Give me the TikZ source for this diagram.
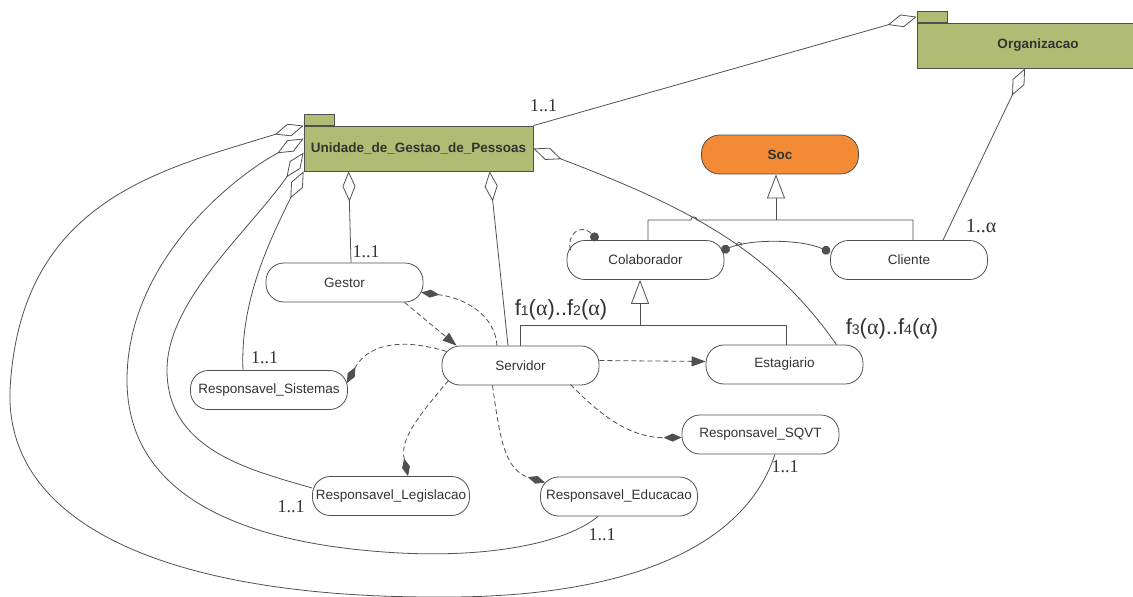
\documentclass[tikz,border=0pt]{standalone}
\usepackage{fontspec}
\setmainfont{Liberation Sans}
\newfontfamily\mulfont{Liberation Serif}
\usetikzlibrary{arrows.meta,calc}

\definecolor{pkgfill}{HTML}{B0BC74}
\definecolor{socfill}{HTML}{F28A36}
\definecolor{ink}{HTML}{505050}
\definecolor{txt}{HTML}{333333}

% multiplicity of the form f<n>(alpha)
\newcommand{\fmul}[1]{f{\fontsize{14}{14}\selectfont #1}({\mulfont α})}

\tikzset{
  pkg/.style={draw=ink, fill=pkgfill, line width=0.8pt, inner sep=0pt,
    minimum height=45pt, font=\bfseries\fontsize{13.5}{15}\selectfont, text=txt},
  pkgtab/.style={draw=ink, fill=pkgfill, line width=0.8pt, inner sep=0pt,
    minimum width=30pt, minimum height=11pt, anchor=south west},
  cls/.style={draw=ink, fill=white, line width=0.8pt, rounded corners=18pt,
    minimum width=157pt, minimum height=39pt, inner sep=0pt,
    font=\fontsize{13.5}{15}\selectfont, text=txt},
  link/.style={draw=ink, line width=0.8pt},
  dep/.style={link, dash pattern=on 5pt off 3pt},
  agg/.style={link, {Diamond[open,length=30pt,width=13pt]}-},
  aggend/.style={link, -{Diamond[open,length=30pt,width=13pt]}},
  comp/.style={dep, -{Diamond[length=18pt,width=8pt]}},
  usedep/.style={dep, -{Triangle[length=14pt,width=10pt]}},
  gen/.style={link, -{Triangle[open,length=24pt,width=18pt]}},
  dotlink/.style={link, {Circle[length=9pt]}-{Circle[length=9pt]}},
  mult/.style={font=\mulfont\fontsize{18}{18}\selectfont, text=txt, inner sep=0pt},
  fmult/.style={font=\fontsize{22}{22}\selectfont, text=txt, inner sep=0pt}
}

\begin{document}
\begin{tikzpicture}[x=1pt,y=-1pt]
\path[use as bounding box, clip] (0,0) rectangle (1133,597);

% packages
\node[pkg, minimum width=229pt] (uni) at (418.5,148.5) {Unidade\_de\_Gestao\_de\_Pessoas};
\node[pkgtab] (uniTab) at (uni.north west) {};
\node[pkg, minimum width=242pt] (org) at (1038,45.5) {Organizacao};
\node[pkgtab] (orgTab) at (org.north west) {};

% classes
\node[cls, fill=socfill, font=\bfseries\fontsize{13.5}{15}\selectfont] (soc) at (780,154.5) {Soc};
\node[cls] (colab)   at (645.5,260)   {Colaborador};
\node[cls] (cliente) at (909,260)     {Cliente};
\node[cls] (gestor)  at (344.5,282.5) {Gestor};
\node[cls] (sist)    at (269,390)     {Responsavel\_Sistemas};
\node[cls] (serv)    at (520.5,365.5) {Servidor};
\node[cls] (estag)   at (784.5,364.5) {Estagiario};
\node[cls] (sqvt)    at (760.5,434.5) {Responsavel\_SQVT};
\node[cls] (legis)   at (391,496)     {Responsavel\_Legislacao};
\node[cls] (educ)    at (619,496.5)   {Responsavel\_Educacao};

% generalisation trees
\coordinate (gA) at ($(soc.south)+(-4,45.5)$);
\draw[link] ($(colab.north)+(2.5,0)$) |- ($(gA)+(-85,0)$)
  arc[start angle=180,end angle=360,radius=3] -| ($(cliente.north)+(4,0)$);
\draw[gen] (gA) -- ($(soc.south)+(-4,0)$);

\coordinate (gB) at ($(colab.south)+(-5.5,45)$);
\draw[link] (serv.north) |- (gB) -| ($(estag.north)+(1.5,0)$);
\draw[gen] (gB) -- ($(colab.south)+(-5.5,0)$);

% aggregations
\draw[aggend] (uni.north east) -- (orgTab.west);
\draw[agg] ($(org.south)+(-13,0)$) -- ($(cliente.north)+(34,0)$);
\draw[agg] ($(uni.south west)+(45,0)$) -- ($(gestor.north)+(6.5,0)$);
\draw[agg] ($(uni.south west)+(186,0)$) -- ($(serv.north)+(-12.5,0)$);
\draw[agg] (uni.east) .. controls (690,208) and (770,250) .. ($(estag.north)+(52,0)$);

\draw[agg] (uni.north west) .. controls (160,170) and (20,200) .. (10,390)
  .. controls (5,530) and (180,598) .. (440,597)
  .. controls (600,598) and (740,560) .. ($(sqvt.south)+(14.5,0)$);
\draw[agg] ($(uni.north west)+(0,13)$) .. controls (220,185) and (127,270) .. (127,380)
  .. controls (127,500) and (250,545) .. (400,553)
  .. controls (500,558) and (570,540) .. ($(educ.south)+(-21,0)$);
\draw[agg] ($(uni.north west)+(0,27)$) .. controls (250,230) and (167,300) .. (167,370)
  .. controls (167,450) and (250,470) .. ($(legis.west)+(0,-8)$);
\draw[agg] (uni.south west) .. controls (270,240) and (240,300) .. ($(sist.north)+(-26,0)$);

% associations between Colaborador and Cliente
\draw[dotlink] ($(colab.east)+(-3,-9)$) .. controls (750,239) and (800,239) .. ($(cliente.west)+(0,-8)$);
\draw[link] (736,245.5) arc[start angle=180,end angle=360,radius=3];
\draw[dep, -{Circle[length=9pt]}] ($(colab.center)+(-75,-10)$)
  .. controls (566,236) and (580,222) .. ($(colab.north west)+(31,0)$);

% dependencies of Servidor
\draw[usedep] ($(gestor.south)+(60,0)$) -- ($(serv.north west)+(15,0)$);
\draw[comp] ($(serv.north)+(-23.5,0)$) .. controls (495,315) and (465,298) .. ($(gestor.east)+(-2,10)$);
\draw[comp] ($(serv.center)+(-74,-14)$) .. controls (410,340) and (370,340) .. ($(sist.east)+(-1,-7)$);
\draw[comp] ($(serv.center)+(-72,15)$) .. controls (415,420) and (400,440) .. ($(legis.north)+(17,0)$);
\draw[comp] ($(serv.south)+(-28,0)$) .. controls (500,440) and (505,470) .. ($(educ.center)+(-74,-14)$);
\draw[comp] ($(serv.center)+(50,19)$) .. controls (600,415) and (630,438) .. ($(sqvt.west)+(0,3)$);
\draw[usedep] ($(serv.east)+(0,-5)$) -- ($(estag.west)+(0,-3)$);

% multiplicities
\node[mult] (mUni)   at (543.5,106) {1..1};
\node[mult] (mGest)  at (366,252)   {1..1};
\node[mult] (mSist)  at (264.5,358) {1..1};
\node[mult] (mLegis) at (291,507)   {1..1};
\node[mult] (mEduc)  at (602,535)   {1..1};
\node[mult] (mSqvt)  at (785,467)   {1..1};
\node[mult, font=\mulfont\fontsize{20}{20}\selectfont] (mCli) at (981,226) {1..α};
\node[fmult] (mServ)  at (561,310) {\fmul{1}..\fmul{2}};
\node[fmult] (mEstag) at (892,329) {\fmul{3}..\fmul{4}};
\end{tikzpicture}
\end{document}
